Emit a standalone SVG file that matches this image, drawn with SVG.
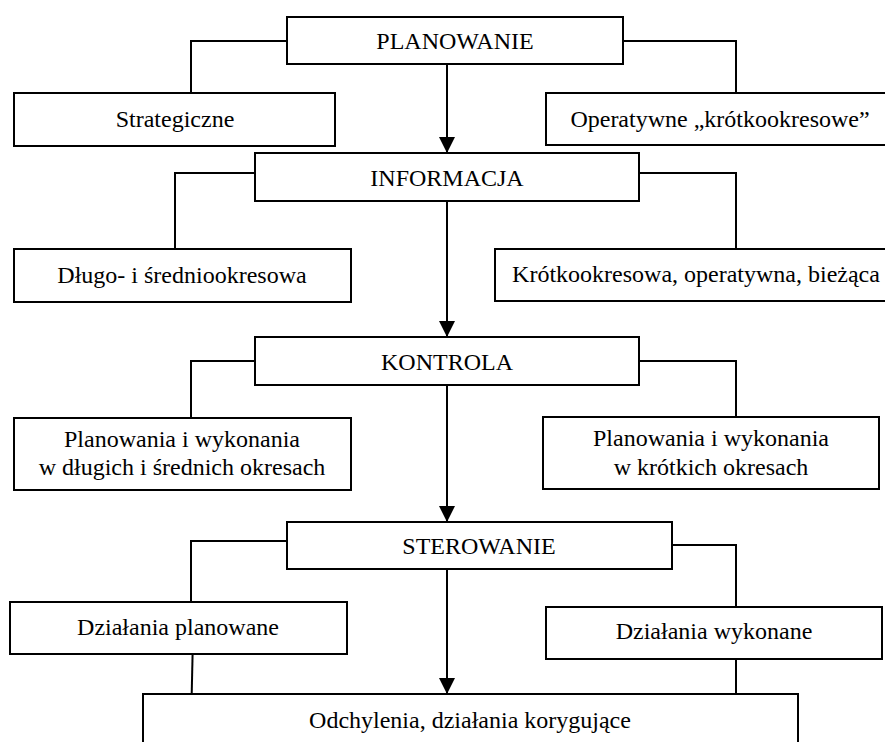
<svg xmlns="http://www.w3.org/2000/svg" width="885" height="742" viewBox="0 0 885 742">
<style>
.box{fill:#fff;stroke:#000;stroke-width:2}
.ln{fill:none;stroke:#000;stroke-width:2}
.t{font-family:'Liberation Serif','Times New Roman',Times,serif;font-size:24px;fill:#000;text-anchor:middle}
</style>
<defs>
<marker id="ah" markerWidth="16" markerHeight="16" viewBox="0 0 16 16" refX="16" refY="8" orient="auto" markerUnits="userSpaceOnUse">
<path d="M0,0 L16,8 L0,16 Z" fill="#000"/>
</marker>
</defs>
<rect width="885" height="742" fill="#fff"/>
<g id="connectors">
<path class="ln" d="M287,41 H191 V93"/>
<path class="ln" d="M623,41 H736 V93"/>
<path class="ln" d="M255,173 H175 V249"/>
<path class="ln" d="M639,173 H736 V249"/>
<path class="ln" d="M255,361 H191 V418"/>
<path class="ln" d="M639,361 H736 V417"/>
<path class="ln" d="M287,541 H191 V602"/>
<path class="ln" d="M672,545 H736 V607"/>
<path class="ln" d="M192.6,654 L191.7,694"/>
<path class="ln" d="M736,659 V694"/>
<path class="ln" d="M447,64 V153" marker-end="url(#ah)"/>
<path class="ln" d="M447,201 V337" marker-end="url(#ah)"/>
<path class="ln" d="M447,385 V522" marker-end="url(#ah)"/>
<path class="ln" d="M447,569 V694" marker-end="url(#ah)"/>
</g>
<g id="planowanie"><rect class="box" x="287" y="17" width="336" height="47"/><text class="t" x="455" y="49">PLANOWANIE</text></g>
<g id="strategiczne"><rect class="box" x="14" y="93" width="321" height="53"/><text class="t" x="175" y="127">Strategiczne</text></g>
<g id="operatywne"><rect class="box" x="546" y="93" width="350" height="52"/><text class="t" x="720" y="127">Operatywne „krótkookresowe”</text></g>
<g id="informacja"><rect class="box" x="255" y="153" width="384" height="48"/><text class="t" x="447" y="186">INFORMACJA</text></g>
<g id="dlugo"><rect class="box" x="14" y="249" width="337" height="53"/><text class="t" x="182" y="283">Długo- i średniookresowa</text></g>
<g id="krotko"><rect class="box" x="495" y="249" width="402" height="52"/><text class="t" x="696" y="282">Krótkookresowa, operatywna, bieżąca</text></g>
<g id="kontrola"><rect class="box" x="255" y="337" width="384" height="48"/><text class="t" x="447" y="370">KONTROLA</text></g>
<g id="kontrola-dlugie"><rect class="box" x="14" y="418" width="337" height="72"/><text class="t" x="182" y="447">Planowania i wykonania</text><text class="t" x="182" y="475">w długich i średnich okresach</text></g>
<g id="kontrola-krotkie"><rect class="box" x="543" y="417" width="336" height="72"/><text class="t" x="711" y="446">Planowania i wykonania</text><text class="t" x="711" y="475">w krótkich okresach</text></g>
<g id="sterowanie"><rect class="box" x="287" y="522" width="385" height="47"/><text class="t" x="479" y="554">STEROWANIE</text></g>
<g id="planowane"><rect class="box" x="10" y="602" width="337" height="52"/><text class="t" x="178" y="635">Działania planowane</text></g>
<g id="wykonane"><rect class="box" x="546" y="607" width="336" height="52"/><text class="t" x="714" y="639">Działania wykonane</text></g>
<g id="odchylenia"><rect class="box" x="143" y="694" width="655" height="60"/><text class="t" x="470" y="728">Odchylenia, działania korygujące</text></g>
</svg>
